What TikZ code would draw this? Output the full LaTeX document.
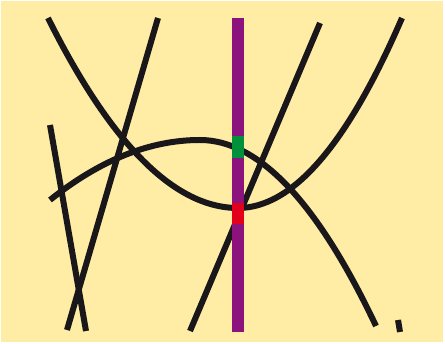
\documentclass[tikz,border=0pt]{standalone}
\definecolor{bgy}{RGB}{255,236,165}
\definecolor{curveblk}{RGB}{26,23,27}
\definecolor{barpurple}{RGB}{140,18,125}
\definecolor{mkgreen}{RGB}{0,145,58}
\definecolor{mkred}{RGB}{226,0,26}
\begin{document}
\begin{tikzpicture}[x=1pt,y=-1pt,
  curve/.style={draw=curveblk,line width=6pt,line cap=butt},
  marker/.style={draw=none}]
\useasboundingbox (0,0) rectangle (445,344);
\fill[white] (0,0) rectangle (445,344);
\fill[bgy] (1,1) rectangle (443,342);
% named end points
\coordinate (uA) at (48,18);
\coordinate (uV) at (238,208);
\coordinate (uB) at (402,18);
\coordinate (dA) at (50,200);
\coordinate (dV) at (200,140);
\coordinate (dB) at (376,326);
\coordinate (l1a) at (50,125);
\coordinate (l1b) at (86,331);
\coordinate (l2a) at (158,18);
\coordinate (l2b) at (67,330);
\coordinate (l3a) at (320,23);
\coordinate (l3b) at (190,331);
\coordinate (s1a) at (398,320);
\coordinate (s1b) at (400,332);
% curves
\draw[curve] (uA) .. controls (111.3,144.7) and (174.7,208) .. (uV)
  .. controls (292.7,208) and (347.3,144.7) .. (uB);
\draw[curve] (dA) .. controls (100,160) and (150,140) .. (dV)
  .. controls (258.7,140) and (317.3,202) .. (dB);
\draw[curve] (l1a) -- (l1b);
\draw[curve] (l2a) -- (l2b);
\draw[curve] (l3a) -- (l3b);
\draw[curve] (s1a) -- (s1b);
% bar and markers
\fill[barpurple] (232,18) rectangle (244,332);
\fill[mkgreen] (232,136) rectangle (244,158);
\fill[mkred] (232,203) rectangle (244,224);
\end{tikzpicture}
\end{document}
